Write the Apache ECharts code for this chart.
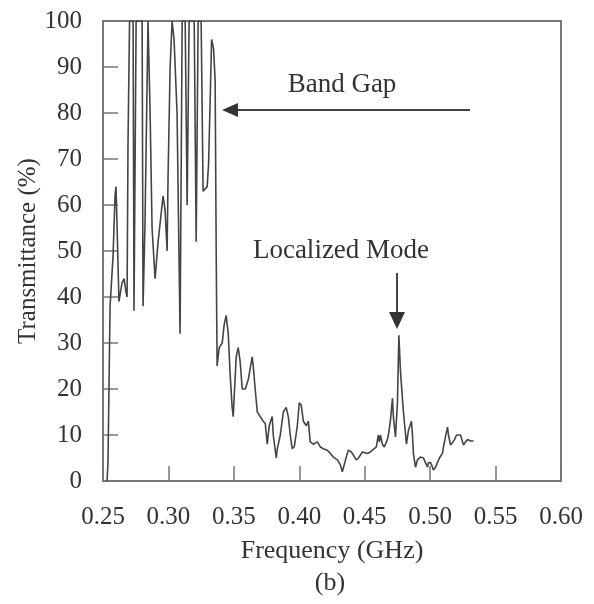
<!DOCTYPE html>
<html>
<head>
<meta charset="utf-8">
<script src="https://cdn.jsdelivr.net/npm/echarts@6/dist/echarts.min.js"></script>
<style>
  html, body { margin: 0; padding: 0; background: #fff; }
  #main { width: 594px; height: 604px; }
</style>
</head>
<body>
<div id="main"></div>
<script>
// 频率 (GHz) 与透射率 (%)
var freq = [
  0.2531, 0.2538, 0.2554, 0.2577, 0.2592, 0.2599, 0.2607, 0.2622, 0.2645, 0.2661,
  0.2676, 0.2684, 0.2691, 0.2703, 0.2730, 0.2737, 0.2753, 0.2799, 0.2806, 0.2821,
  0.2844, 0.2852, 0.2860, 0.2875, 0.2898, 0.2921, 0.2944, 0.2959, 0.2974, 0.2990,
  0.2997, 0.3013, 0.3028, 0.3043, 0.3066, 0.3089, 0.3105, 0.3128, 0.3143, 0.3158,
  0.3197, 0.3212, 0.3227, 0.3250, 0.3265, 0.3296, 0.3307, 0.3319, 0.3330, 0.3345,
  0.3357, 0.3365, 0.3372, 0.3388, 0.3411, 0.3426, 0.3441, 0.3457, 0.3472, 0.3487,
  0.3495, 0.3518, 0.3533, 0.3548, 0.3564, 0.3587, 0.3610, 0.3640, 0.3648, 0.3663,
  0.3679, 0.3702, 0.3724, 0.3740, 0.3755, 0.3770, 0.3793, 0.3801, 0.3824, 0.3832,
  0.3855, 0.3878, 0.3900, 0.3916, 0.3931, 0.3946, 0.3962, 0.3985, 0.4000, 0.4015,
  0.4031, 0.4054, 0.4069, 0.4084, 0.4107, 0.4138, 0.4161, 0.4184, 0.4214, 0.4237,
  0.4260, 0.4291, 0.4314, 0.4329, 0.4344, 0.4367, 0.4375, 0.4398, 0.4413, 0.4436,
  0.4452, 0.4482, 0.4497, 0.4520, 0.4543, 0.4559, 0.4566, 0.4589, 0.4604, 0.4612,
  0.4620, 0.4635, 0.4650, 0.4673, 0.4681, 0.4696, 0.4712, 0.4719, 0.4735, 0.4750,
  0.4761, 0.4773, 0.4788, 0.4796, 0.4819, 0.4834, 0.4857, 0.4865, 0.4872, 0.4888,
  0.4903, 0.4926, 0.4949, 0.4964, 0.4980, 0.4987, 0.5003, 0.5018, 0.5025, 0.5041,
  0.5056, 0.5071, 0.5094, 0.5102, 0.5117, 0.5133, 0.5140, 0.5156, 0.5171, 0.5186,
  0.5202, 0.5217, 0.5232, 0.5247, 0.5255, 0.5270, 0.5286, 0.5309, 0.5332
];
var trans = [
  0, 4, 38, 49, 62, 64, 56, 39, 43, 44,
  41, 40, 73, 100, 100, 37, 100, 100, 38, 56,
  100, 100, 80, 55, 44, 52, 58, 62, 59, 50,
  66, 90, 100, 96, 80, 32, 100, 100, 60, 100,
  100, 52, 100, 100, 63, 64, 69, 83, 96, 94,
  87, 50, 25, 29, 30, 34, 36, 32, 23, 16,
  14, 27, 29, 26, 20, 20, 22, 27, 25, 20,
  15, 14, 13, 12.5, 8, 12, 14, 10, 5, 7,
  10, 15, 16, 14, 10, 7, 7.5, 12, 17, 16.5,
  13, 12, 13, 8.5, 8, 8.5, 7.4, 7, 6.7, 6,
  5.2, 4.6, 3.5, 2, 1.7, 6, 6.7, 6.3, 6, 4.6,
  5, 6.3, 6.3, 6, 6.3, 6.7, 6.3, 7.4, 10, 8.5,
  10, 8, 7.4, 9, 10, 13, 18, 14, 9.6, 17,
  31.7, 24, 18, 15, 8, 11, 13, 10, 6, 3,
  4.6, 5.2, 5, 4, 3, 4, 4, 3, 2.4, 3,
  4, 5, 6, 7.4, 9.6, 11.7, 10, 7.8, 7.4, 9,
  10, 10.4, 10, 9.6, 7.8, 8.5, 9, 8.7, 8.7
];
var xTicks = [0.25, 0.60, 0.05];   // min, max, interval
var yTicks = [0, 100, 10];

var seriesData = freq.map(function (f, i) { return [f, trans[i]]; });

var serif = 'Liberation Serif, Times New Roman, serif';
var textColor = '#333';
var frameColor = '#777';

var myChart = echarts.init(document.getElementById('main'));
var option = {
  animation: false,
  backgroundColor: '#fff',
  grid: {
    left: 103, right: 33, top: 21, bottom: 123,
    show: true, borderColor: frameColor, borderWidth: 2
  },
  xAxis: {
    type: 'value',
    min: xTicks[0], max: xTicks[1], interval: xTicks[2],
    name: 'Frequency (GHz)',
    nameLocation: 'middle',
    nameGap: 57,
    nameTextStyle: { fontFamily: serif, fontSize: 26, color: textColor },
    axisLine: { show: true, lineStyle: { color: frameColor, width: 2 } },
    axisTick: { show: true, inside: true, length: 15, lineStyle: { color: frameColor, width: 1.5 } },
    axisLabel: {
      margin: 24, fontFamily: serif, fontSize: 25, color: textColor,
      formatter: function (v) { return v.toFixed(2); }
    },
    splitLine: { show: false }
  },
  yAxis: {
    type: 'value',
    min: yTicks[0], max: yTicks[1], interval: yTicks[2],
    name: 'Transmittance (%)',
    nameLocation: 'middle',
    nameGap: 62,
    nameMoveOverlap: false,
    nameTextStyle: { fontFamily: serif, fontSize: 25, color: textColor },
    axisLine: { show: true, lineStyle: { color: frameColor, width: 2 } },
    axisTick: { show: true, inside: true, length: 15, lineStyle: { color: frameColor, width: 1.5 } },
    axisLabel: { margin: 21, fontFamily: serif, fontSize: 25, color: textColor },
    splitLine: { show: false }
  },
  series: [{
    type: 'line',
    data: seriesData,
    showSymbol: false,
    clip: true,
    lineStyle: { color: '#444', width: 1.6 }
  }],
  graphic: [
    // Band Gap 箭头
    { type: 'line', shape: { x1: 236, y1: 110, x2: 470, y2: 110 },
      style: { stroke: '#444', lineWidth: 2 } },
    { type: 'polygon', shape: { points: [[222, 110], [238, 103], [238, 117]] },
      style: { fill: '#333' } },
    { type: 'text', x: 342, y: 85,
      style: { text: 'Band Gap', font: '27px ' + serif, fill: textColor, align: 'center', verticalAlign: 'middle' } },
    // Localized Mode 箭头
    { type: 'line', shape: { x1: 397, y1: 273, x2: 397, y2: 314 },
      style: { stroke: '#444', lineWidth: 2 } },
    { type: 'polygon', shape: { points: [[397, 329], [389, 312], [405, 312]] },
      style: { fill: '#333' } },
    { type: 'text', x: 341, y: 251,
      style: { text: 'Localized Mode', font: '27px ' + serif, fill: textColor, align: 'center', verticalAlign: 'middle' } },
    { type: 'text', x: 330, y: 583,
      style: { text: '(b)', font: '26px ' + serif, fill: textColor, align: 'center', verticalAlign: 'middle' } }
  ]
};
myChart.setOption(option);

window.addEventListener('resize', function () {
  myChart.resize();
});
</script>
</body>
</html>
